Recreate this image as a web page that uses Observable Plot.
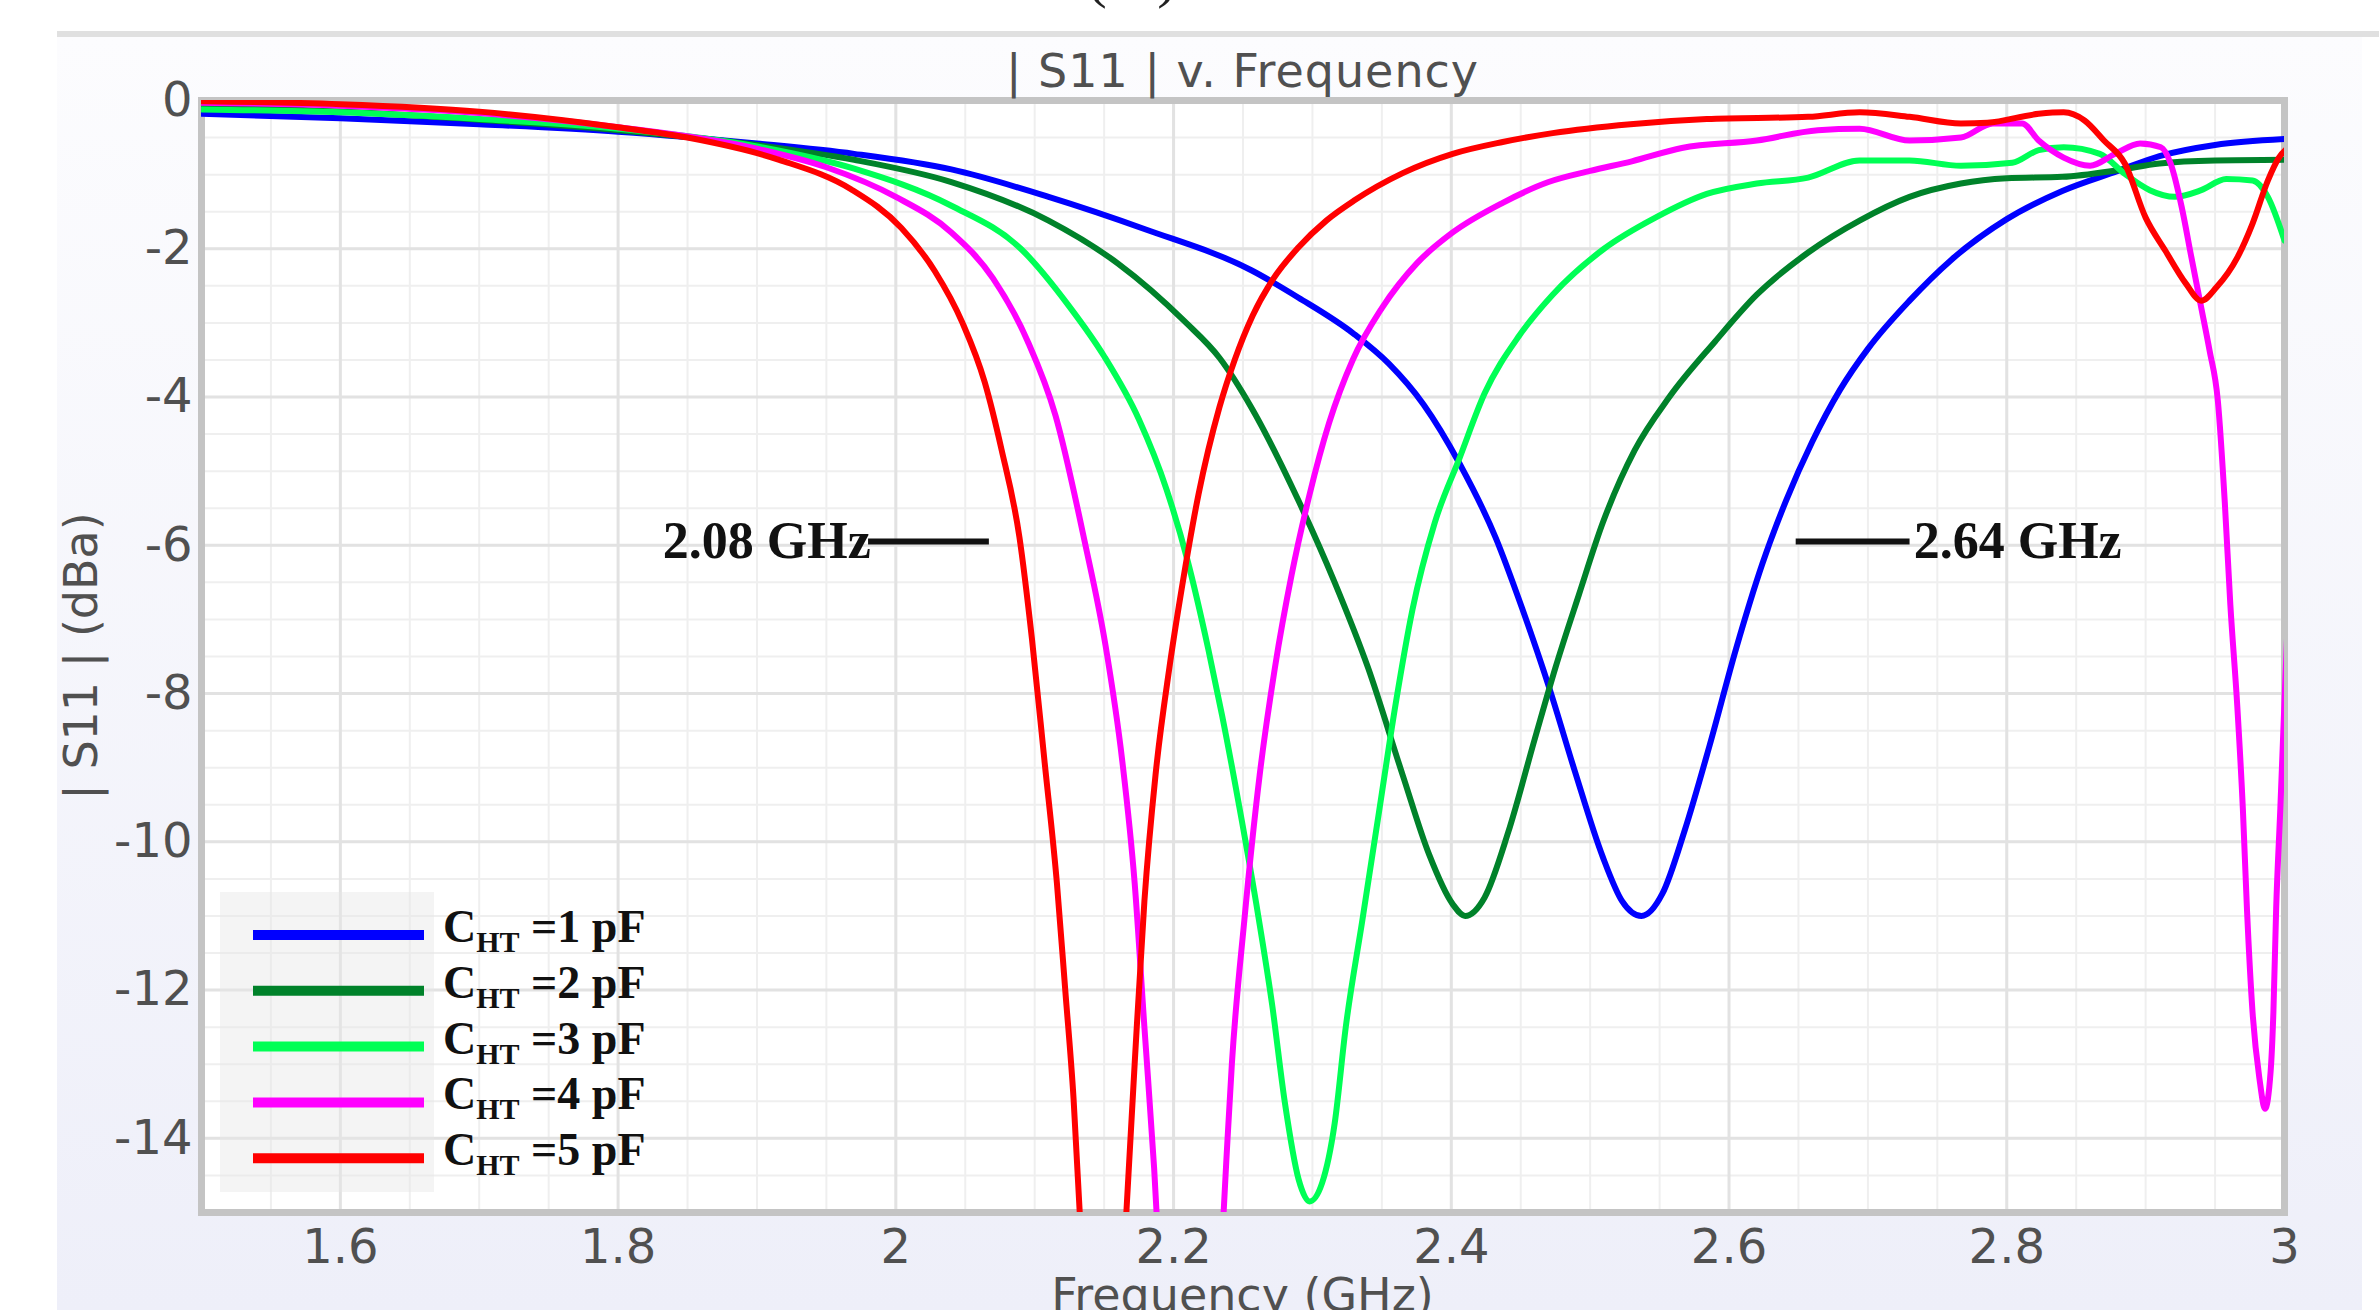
<!DOCTYPE html>
<html><head><meta charset="utf-8">
<script src="https://cdn.jsdelivr.net/npm/d3@7"></script>
<script src="https://cdn.jsdelivr.net/npm/@observablehq/plot@0.6"></script>
<style>
html,body{margin:0;padding:0;background:#fff;width:2379px;height:1310px;overflow:hidden;}
#panel{position:absolute;left:57px;top:37px;width:2305px;height:1273px;background:linear-gradient(to bottom,#fcfcfe,#eeeff9);}
#topline{position:absolute;left:57px;top:31px;width:2322px;height:6px;background:#e0e0e0;}
#chart{position:absolute;left:0;top:0;}
</style></head>
<body>
<div id="topline"></div>
<div id="panel"></div>
<div id="chart"></div>
<script>
// ---- data ----
const freqTicks = [1.6, 1.8, 2, 2.2, 2.4, 2.6, 2.8, 3];
const dbTicks = [0, -2, -4, -6, -8, -10, -12, -14];
const capValues = [1, 2, 3, 4, 5];
const seriesColors = ["#0000ff", "#00822a", "#00ff55", "#ff00ff", "#ff0000"];

const s11_1pF = [[1.50,-0.18],[1.60,-0.24],[1.70,-0.32],[1.80,-0.42],[1.90,-0.58],[1.97,-0.72],[2.04,-0.93],[2.11,-1.30],[2.18,-1.74],[2.256,-2.29],[2.29,-2.66],[2.33,-3.15],[2.355,-3.55],[2.38,-4.1],[2.406,-4.9],[2.432,-5.9],[2.451,-6.85],[2.471,-7.95],[2.489,-9.05],[2.509,-10.2],[2.523,-10.8],[2.537,-11.0],[2.552,-10.7],[2.568,-9.85],[2.586,-8.7],[2.605,-7.4],[2.624,-6.25],[2.641,-5.4],[2.66,-4.6],[2.68,-3.9],[2.70,-3.35],[2.73,-2.7],[2.76,-2.15],[2.80,-1.6],[2.84,-1.22],[2.88,-0.95],[2.91,-0.75],[2.95,-0.6],[3.00,-0.52]];
const s11_2pF = [[1.50,-0.08],[1.60,-0.15],[1.70,-0.26],[1.80,-0.40],[1.90,-0.60],[1.97,-0.80],[2.04,-1.10],[2.11,-1.62],[2.16,-2.2],[2.208,-2.98],[2.233,-3.47],[2.256,-4.14],[2.29,-5.4],[2.316,-6.5],[2.34,-7.65],[2.365,-9.1],[2.384,-10.17],[2.401,-10.84],[2.41,-11.0],[2.424,-10.75],[2.441,-9.87],[2.46,-8.62],[2.475,-7.65],[2.492,-6.66],[2.509,-5.7],[2.532,-4.72],[2.557,-4.0],[2.59,-3.25],[2.62,-2.62],[2.657,-2.05],[2.694,-1.62],[2.73,-1.3],[2.767,-1.12],[2.80,-1.05],[2.84,-1.03],[2.88,-0.94],[2.91,-0.85],[2.95,-0.81],[3.00,-0.80]];
const s11_3pF = [[1.50,-0.12],[1.60,-0.16],[1.70,-0.25],[1.80,-0.38],[1.90,-0.62],[1.97,-0.92],[2.04,-1.42],[2.09,-2.0],[2.125,-2.78],[2.15,-3.45],[2.175,-4.3],[2.195,-5.25],[2.21,-6.2],[2.225,-7.4],[2.235,-8.3],[2.249,-9.7],[2.261,-11.0],[2.271,-12.2],[2.28,-13.5],[2.29,-14.55],[2.298,-14.85],[2.307,-14.6],[2.316,-13.8],[2.324,-12.5],[2.336,-11.05],[2.348,-9.59],[2.36,-8.13],[2.372,-6.87],[2.388,-5.7],[2.406,-4.82],[2.424,-3.95],[2.449,-3.17],[2.473,-2.62],[2.51,-2.0],[2.547,-1.58],[2.584,-1.26],[2.62,-1.12],[2.657,-1.04],[2.694,-0.81],[2.73,-0.81],[2.767,-0.88],[2.804,-0.84],[2.823,-0.67],[2.841,-0.63],[2.867,-0.72],[2.885,-0.99],[2.903,-1.21],[2.921,-1.30],[2.94,-1.21],[2.958,-1.06],[2.977,-1.08],[2.988,-1.3],[3.00,-1.89]];
const s11_4pF = [[1.50,-0.03],[1.60,-0.07],[1.70,-0.17],[1.80,-0.36],[1.90,-0.65],[1.95,-0.9],[2.0,-1.3],[2.04,-1.78],[2.07,-2.4],[2.095,-3.25],[2.115,-4.25],[2.136,-5.95],[2.151,-7.35],[2.163,-8.9],[2.172,-10.56],[2.179,-12.5],[2.186,-14.4],[2.195,-17.5],[2.212,-22],[2.229,-17.5],[2.238,-14.3],[2.242,-12.99],[2.251,-11.05],[2.262,-9.1],[2.273,-7.65],[2.285,-6.4],[2.298,-5.31],[2.312,-4.35],[2.329,-3.5],[2.35,-2.8],[2.375,-2.2],[2.401,-1.78],[2.437,-1.38],[2.47,-1.1],[2.50,-0.95],[2.53,-0.82],[2.566,-0.64],[2.62,-0.54],[2.664,-0.40],[2.694,-0.38],[2.73,-0.54],[2.767,-0.50],[2.79,-0.31],[2.811,-0.31],[2.823,-0.54],[2.841,-0.77],[2.86,-0.88],[2.878,-0.72],[2.896,-0.58],[2.911,-0.63],[2.918,-0.85],[2.926,-1.44],[2.933,-2.12],[2.940,-2.79],[2.946,-3.37],[2.952,-4.05],[2.957,-5.42],[2.961,-6.8],[2.966,-8.17],[2.970,-9.55],[2.973,-10.92],[2.977,-12.3],[2.982,-13.2],[2.986,-13.6],[2.990,-13.1],[2.992,-12.3],[2.994,-10.9],[2.997,-9.55],[3.000,-8.1],[3.003,-6.7]];
const s11_5pF = [[1.50,-0.01],[1.60,-0.05],[1.70,-0.15],[1.80,-0.36],[1.85,-0.5],[1.916,-0.8],[1.968,-1.2],[2.004,-1.72],[2.028,-2.3],[2.048,-3.0],[2.064,-3.8],[2.076,-4.7],[2.089,-5.89],[2.098,-7.26],[2.107,-8.9],[2.116,-10.56],[2.122,-12.0],[2.128,-13.47],[2.133,-15.2],[2.14,-18],[2.149,-21],[2.158,-18],[2.166,-15.0],[2.172,-12.99],[2.179,-10.8],[2.187,-9.1],[2.197,-7.65],[2.206,-6.57],[2.218,-5.31],[2.233,-4.14],[2.244,-3.5],[2.257,-2.9],[2.272,-2.4],[2.29,-1.98],[2.31,-1.62],[2.33,-1.35],[2.365,-0.98],[2.401,-0.72],[2.437,-0.56],[2.473,-0.44],[2.529,-0.32],[2.584,-0.25],[2.657,-0.22],[2.694,-0.16],[2.73,-0.22],[2.767,-0.31],[2.786,-0.30],[2.823,-0.18],[2.841,-0.16],[2.856,-0.27],[2.870,-0.54],[2.885,-0.85],[2.90,-1.58],[2.914,-2.02],[2.929,-2.47],[2.940,-2.70],[2.951,-2.52],[2.966,-2.12],[2.977,-1.66],[2.988,-1.08],[2.996,-0.77],[3.003,-0.63]];

const annotLabels = ["2.08 GHz", "2.64 GHz"];
const annotTextX = [1.982, 2.733];
const annotLineX1 = [1.980, 2.648];
const annotLineX2 = [2.067, 2.730];
const annotY = [-5.95, -5.95];

// ---- build ----
const series = [s11_1pF, s11_2pF, s11_3pF, s11_4pF, s11_5pF];
const annotRows = annotLabels.map((label, i) => ({label, tx: annotTextX[i], x1: annotLineX1[i], x2: annotLineX2[i], y: annotY[i]}));
const minorX = d3.range(1.55, 3.0001, 0.05).map(v => +v.toFixed(2));
const minorY = d3.range(-14.5, 0, 0.5);
const serif = "'Liberation Serif', 'Times New Roman', serif";
const sans = "'DejaVu Sans', sans-serif";

const chart = Plot.plot({
  width: 2379, height: 1310,
  marginLeft: 201, marginRight: 95, marginTop: 100, marginBottom: 98,
  style: {background: "transparent", fontFamily: sans, overflow: "visible"},
  x: {domain: [1.5, 3]},
  y: {domain: [-15, 0]},
  marks: [
    Plot.frame({fill: "white", stroke: null}),
    Plot.gridX(minorX, {stroke: "#efefef", strokeOpacity: 1, strokeWidth: 2}),
    Plot.gridY(minorY, {stroke: "#efefef", strokeOpacity: 1, strokeWidth: 2}),
    Plot.gridX(freqTicks, {stroke: "#e2e2e2", strokeOpacity: 1, strokeWidth: 3}),
    Plot.gridY(dbTicks, {stroke: "#e2e2e2", strokeOpacity: 1, strokeWidth: 3}),
    Plot.frame({stroke: "#c4c4c4", strokeWidth: 7}),
    Plot.axisX(freqTicks, {tickSize: 0, tickPadding: 16, fontSize: 48, fill: "#505050", label: null, tickFormat: d => String(d)}),
    Plot.axisY(dbTicks, {tickSize: 0, tickPadding: 9, fontSize: 48, fill: "#505050", label: null, tickFormat: d => String(d)}),
    ...series.map((arr, i) => Plot.line(arr, {x: d => d[0], y: d => d[1], stroke: seriesColors[i], strokeWidth: 6, curve: "monotone-x", clip: true})),
    Plot.link(annotRows, {x1: "x1", x2: "x2", y1: "y", y2: "y", stroke: "#111", strokeWidth: 6}),
    Plot.text(annotRows.slice(0, 1), {x: "tx", y: "y", text: "label", textAnchor: "end", fontFamily: serif, fontWeight: "bold", fontSize: 52, fill: "#111"}),
    Plot.text(annotRows.slice(1), {x: "tx", y: "y", text: "label", textAnchor: "start", fontFamily: serif, fontWeight: "bold", fontSize: 52, fill: "#111"})
  ]
});

const svg = d3.select(chart);
const xs = chart.scale("x"), ys = chart.scale("y");
const cx = (xs.range[0] + xs.range[1]) / 2;
const cy = (ys.range[0] + ys.range[1]) / 2;

// title & axis labels
svg.append("text").attr("x", cx).attr("y", 87).attr("text-anchor", "middle")
  .attr("font-family", sans).attr("font-size", 46).attr("fill", "#505050").attr("letter-spacing", 1)
  .text("| S11 | v. Frequency");
svg.append("text").attr("x", cx).attr("y", 1311).attr("text-anchor", "middle")
  .attr("font-family", sans).attr("font-size", 46).attr("fill", "#505050")
  .text("Frequency (GHz)");
svg.append("text").attr("transform", `translate(97,${cy}) rotate(-90)`).attr("text-anchor", "middle")
  .attr("font-family", sans).attr("font-size", 46).attr("fill", "#505050")
  .text("| S11 | (dBa)");
// figure tag, mostly cut off at the top
svg.append("text").attr("x", 1138).attr("y", -4).attr("text-anchor", "middle")
  .attr("font-family", serif).attr("font-size", 60).attr("letter-spacing", 12).attr("fill", "#222")
  .text("(a)");

// legend
const lg = svg.append("g").style("white-space", "pre");
lg.append("rect").attr("x", 220).attr("y", 892).attr("width", 214).attr("height", 300)
  .attr("fill", "#e6e6e6").attr("fill-opacity", 0.45);
capValues.forEach((c, i) => {
  const y = 935 + i * 55.8;
  lg.append("line").attr("x1", 253).attr("x2", 424).attr("y1", y).attr("y2", y)
    .attr("stroke", seriesColors[i]).attr("stroke-width", 10);
  const t = lg.append("text").attr("x", 443).attr("y", y + 7).attr("text-anchor", "start")
    .attr("font-family", serif).attr("font-weight", "bold").attr("font-size", 46).attr("fill", "#111");
  t.append("tspan").text("C");
  t.append("tspan").attr("font-size", 30).attr("dy", 10).text("HT");
  t.append("tspan").attr("dy", -10).text(" =" + c + " pF");
});

document.getElementById("chart").appendChild(chart);
</script>
</body></html>
